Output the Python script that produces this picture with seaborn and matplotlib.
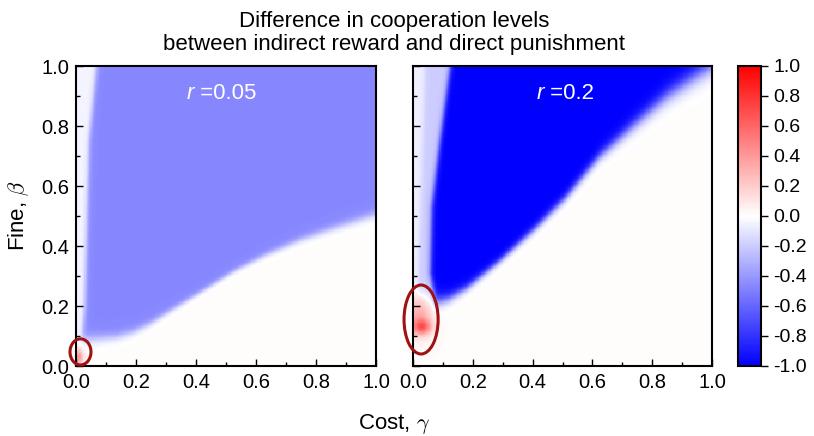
import numpy as np
import seaborn as sns
import matplotlib.pyplot as plt
from matplotlib.patches import Ellipse

# ---- values ----
# r = 0.05 panel: lower edge of the blue region (beta as a function of gamma)
low05_gamma = [0.0, 0.03, 0.08, 0.136, 0.19, 0.247, 0.30, 0.414, 0.525, 0.636, 0.747, 0.86, 1.0]
low05_beta = [0.08, 0.088, 0.092, 0.097, 0.113, 0.141, 0.175, 0.245, 0.315, 0.372, 0.42, 0.46, 0.505]
low05_fuzz = [0.012, 0.012, 0.011, 0.01, 0.009, 0.008, 0.007, 0.006, 0.006, 0.007, 0.008, 0.009, 0.01]
# left edge of the blue region (gamma as a function of beta)
edge05_beta = [0.08, 0.2, 0.53, 0.75, 1.0]
edge05_gamma = [0.02, 0.03, 0.038, 0.044, 0.069]
strip05_beta = [0.0, 1.0]
strip05_gamma = [0.01, 0.02]
levels05 = [0.015, -0.04, -0.04, -0.47]   # below, near axis, strip, plateau
spots05 = [(0.008, 0.03, 0.38, 0.012, 0.02)]  # gamma, beta, height, width_g, width_b

# r = 0.2 panel
low20_gamma = [0.0, 0.04, 0.07, 0.12, 0.18, 0.29, 0.40, 0.51, 0.625, 0.736, 0.85, 0.96, 1.0]
low20_beta = [0.25, 0.23, 0.21, 0.225, 0.26, 0.35, 0.45, 0.56, 0.70, 0.80, 0.90, 0.975, 1.0]
low20_fuzz = [0.01, 0.012, 0.014, 0.011, 0.009, 0.008, 0.009, 0.01, 0.012, 0.015, 0.018, 0.02, 0.02]
edge20_beta = [0.2, 0.24, 0.31, 0.53, 0.75, 1.0]
edge20_gamma = [0.075, 0.07, 0.058, 0.063, 0.09, 0.125]
strip20_beta = [0.25, 0.5, 1.0]
strip20_gamma = [0.015, 0.025, 0.04]
levels20 = [0.015, -0.06, -0.2, -1.0]
spots20 = [(0.03, 0.13, 0.5, 0.022, 0.018),
           (0.02, 0.17, 0.3, 0.03, 0.045)]

ticks = [0.0, 0.2, 0.4, 0.6, 0.8, 1.0]
tick_labels = ['0.0', '0.2', '0.4', '0.6', '0.8', '1.0']
cbar_ticks = [-1.0, -0.8, -0.6, -0.4, -0.2, 0.0, 0.2, 0.4, 0.6, 0.8, 1.0]
cbar_labels = ['-1.0', '-0.8', '-0.6', '-0.4', '-0.2', '0.0', '0.2', '0.4', '0.6', '0.8', '1.0']

N = 250


def sig(x):
    return 1.0 / (1.0 + np.exp(-x))


def build_panel(low_g, low_b, low_f, edge_b, edge_g, strip_b, strip_g, levels, spots):
    g = (np.arange(N) + 0.5) / N
    G, B = np.meshgrid(g, g)
    floor, s0, s1, plateau = levels
    t_low = sig((B - np.interp(G, low_g, low_b)) / np.interp(G, low_g, low_f))
    t_strip = sig((G - np.interp(B, strip_b, strip_g)) / 0.005)
    t_edge = sig((G - np.interp(B, edge_b, edge_g)) / 0.005)
    above = s0 + (s1 - s0) * t_strip + (plateau - s1) * t_edge
    Z = floor + t_low * (above - floor)
    for sg, sb, amp, wg, wb in spots:
        Z = Z + amp * np.exp(-0.5 * (((G - sg) / wg) ** 2 + ((B - sb) / wb) ** 2))
    return np.clip(Z, -1, 1)


z05 = build_panel(low05_gamma, low05_beta, low05_fuzz, edge05_beta, edge05_gamma,
                  strip05_beta, strip05_gamma, levels05, spots05)
z20 = build_panel(low20_gamma, low20_beta, low20_fuzz, edge20_beta, edge20_gamma,
                  strip20_beta, strip20_gamma, levels20, spots20)

sns.set_style('white')
plt.rcParams['font.family'] = ['Liberation Sans', 'DejaVu Sans']
plt.rcParams['mathtext.fontset'] = 'cm'
plt.rcParams['axes.unicode_minus'] = False
for key in ['text.color', 'axes.labelcolor', 'xtick.color', 'ytick.color']:
    plt.rcParams[key] = 'black'

fig = plt.figure(figsize=(8.14, 4.36), dpi=100)
ax1 = fig.add_axes([76 / 814, 70 / 436, 300 / 814, 300 / 436])
ax2 = fig.add_axes([413 / 814, 70 / 436, 299 / 814, 300 / 436])
cax = fig.add_axes([738 / 814, 70 / 436, 23 / 814, 300 / 436])

sns.heatmap(z05, ax=ax1, cmap='bwr', vmin=-1, vmax=1, cbar=False,
            xticklabels=False, yticklabels=False)
sns.heatmap(z20, ax=ax2, cmap='bwr', vmin=-1, vmax=1, cbar=True, cbar_ax=cax,
            xticklabels=False, yticklabels=False)

for ax, lab, rx in [(ax1, '=0.05', 0.37), (ax2, '=0.2', 0.414)]:
    ax.set_axisbelow(False)
    ax.set_ylim(0, N)
    ax.set_xlim(0, N)
    for s in ax.spines.values():
        s.set_visible(True)
        s.set_linewidth(1.5)
        s.set_color('black')
    ax.set_xticks([t * N for t in ticks])
    ax.set_yticks([t * N for t in ticks])
    ax.set_xticks(np.arange(0, 11) * N / 10, minor=True)
    ax.set_yticks(np.arange(0, 11) * N / 10, minor=True)
    ax.set_xticklabels(tick_labels)
    ax.set_yticklabels(tick_labels if ax is ax1 else [])
    ax.tick_params(which='both', direction='in', bottom=True, left=True,
                   top=False, right=False, width=1, labelsize=14.5, pad=5,
                   color='black', labelcolor='black')
    ax.tick_params(which='major', length=5)
    ax.tick_params(which='minor', length=3)
    for t in ax.get_xticklabels() + ax.get_yticklabels():
        t.set_rotation(0)
    rt = ax.text(rx, 0.89, 'r', transform=ax.transAxes, color='white',
                 fontsize=16, style='italic', va='baseline', ha='left')
    ax.annotate(' ' + lab, xy=(1, 0), xycoords=rt, xytext=(0, 0),
                textcoords='offset points', color='white', fontsize=16,
                va='bottom', ha='left')

ax1.add_patch(Ellipse((0.015 * N, 0.047 * N), 0.07 * N, 0.087 * N, fill=False,
                      edgecolor='#a01212', linewidth=2.2, clip_on=False, zorder=5))
ax2.add_patch(Ellipse((0.027 * N, 0.155 * N), 0.114 * N, 0.23 * N, fill=False,
                      edgecolor='#a01212', linewidth=2.2, clip_on=False, zorder=5))

cbar = ax2.collections[0].colorbar
cbar.set_ticks(cbar_ticks)
cbar.set_ticklabels(cbar_labels)
cbar.outline.set_visible(True)
cbar.outline.set_linewidth(1.5)
cbar.outline.set_edgecolor('black')
cax.tick_params(labelsize=14, length=5, width=1, direction='out', right=True, pad=4,
                color='black', labelcolor='black')

fig.text(0.484, 0.975, 'Difference in cooperation levels\nbetween indirect reward and direct punishment',
         ha='center', va='top', fontsize=16, linespacing=1.15, color='black')
fig.text(0.484, 7 / 436, r'Cost, $\gamma$', ha='center', va='baseline', fontsize=16, color='black')
fig.text(19 / 814, 0.505, r'Fine, $\beta$', ha='center', va='center', rotation=90,
         fontsize=16, color='black')

fig.savefig('out.png', dpi=100)
